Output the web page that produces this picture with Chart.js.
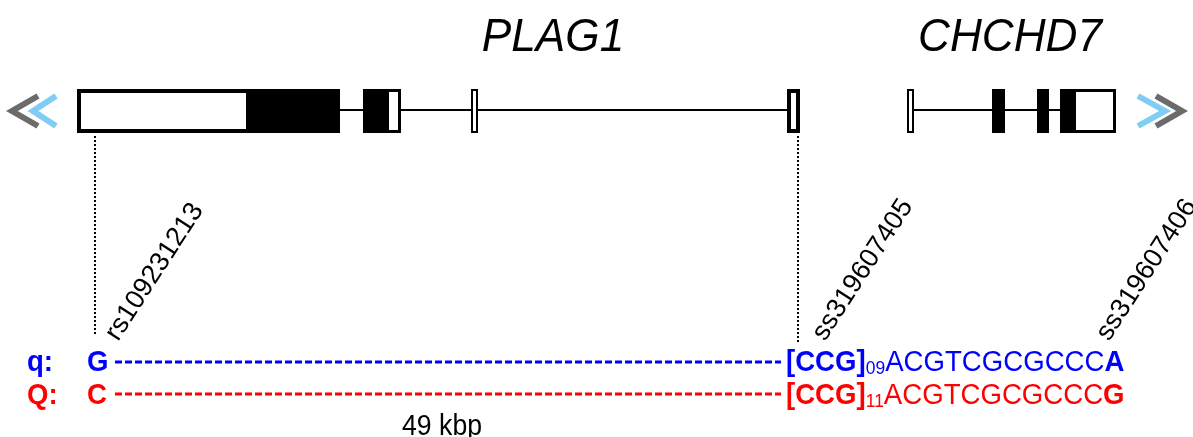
<!DOCTYPE html>
<html>
<head>
<meta charset="utf-8">
<script src="https://cdn.jsdelivr.net/npm/chart.js@4/dist/chart.umd.min.js"></script>
<style>
  html, body { margin: 0; padding: 0; background: #fff; }
  canvas { display: block; }
</style>
</head>
<body>
<canvas id="chart" width="1193" height="437"></canvas>
<script>
// diagram coordinates (x along the locus, y down the figure)
const geneNames = ['PLAG1', 'CHCHD7'];
const geneLabelX = [553, 1010];

const exonStart = [77, 363, 471, 787, 907, 992, 1037, 1060];
const exonEnd = [340, 401, 478, 800, 914, 1005, 1049, 1116];
const codingStart = [246, 363, null, null, null, 992, 1037, 1060];
const codingEnd = [340, 389, null, null, null, 1005, 1049, 1076];

const intronStart = [340, 914];
const intronEnd = [787, 1060];

const markerNames = ['rs109231213', 'ss319607405', 'ss319607406'];
const markerX = [118, 825, 1109];
const markerLineX = [95, 798];
const markerLineEnd = [334, 344];

const haplotypeNames = ['q:', 'Q:'];
const firstAllele = ['G', 'C'];
const repeatUnit = '[CCG]';
const repeatCount = ['09', '11'];
const flankSeq = 'ACGTCGCGCCC';
const lastAllele = ['A', 'G'];
const spanLabel = '49 kbp';

const haploColors = ['#0000ff', '#ff0000'];
const trackY = 110;
const rowY = [362, 394];
const rowBase = [371, 404];
const FONT = '"Liberation Sans", Arial, sans-serif';
const SQUEEZE = 0.92; // the figure's lettering is a little narrow

function seg(x0, x1, y0, y1) {
    return [{x: x0, y: y0}, {x: x1, y: y1 === undefined ? y0 : y1}];
}

function lineSet(data, color, width, dash) {
    return {
        type: 'line', data: data, borderColor: color, borderWidth: width,
        borderDash: dash || [], pointRadius: 0, fill: false, tension: 0,
        borderCapStyle: 'butt', borderJoinStyle: 'miter'
    };
}

const datasets = [];
// introns
for (let i = 0; i < intronStart.length; i++) {
    datasets.push(lineSet(seg(intronStart[i], intronEnd[i], trackY), '#000', 2));
}
// dotted marker lines
for (let i = 0; i < markerLineX.length; i++) {
    datasets.push(lineSet(seg(markerLineX[i], markerLineX[i], 136, markerLineEnd[i]), '#000', 2, [2, 2]));
}
// haplotype dashes
for (let i = 0; i < haplotypeNames.length; i++) {
    datasets.push(lineSet(seg(115, 781, rowY[i]), haploColors[i], 3, [7, 3]));
}
// direction chevrons
const chevron = (tipX, armX) => [{x: armX, y: trackY - 14}, {x: tipX, y: trackY + 1}, {x: armX, y: trackY + 16}];
datasets.push(lineSet(chevron(12, 38), '#6b6b6b', 6));
datasets.push(lineSet(chevron(33, 56), '#7fcdf2', 6));
datasets.push(lineSet(chevron(1165, 1138), '#7fcdf2', 6));
datasets.push(lineSet(chevron(1182, 1156), '#6b6b6b', 6));

const exonBorder = [4, 3, 2, 4, 2, 2, 2, 3];

// draw text narrowed horizontally, returns advance width on screen
function squeezedText(ctx, text, x, y, squeeze) {
    ctx.save();
    ctx.translate(x, y);
    ctx.scale(squeeze, 1);
    ctx.fillText(text, 0, 0);
    ctx.restore();
    return ctx.measureText(text).width * squeeze;
}

const diagramPlugin = {
    id: 'diagram',
    afterDatasetsDraw(chart) {
        const ctx = chart.ctx;
        const sx = chart.scales.x, sy = chart.scales.y;
        const px = v => sx.getPixelForValue(v);
        const py = v => sy.getPixelForValue(v);
        ctx.save();

        // exons
        const top = py(trackY - 21), bottom = py(trackY + 23);
        for (let i = 0; i < exonStart.length; i++) {
            const x0 = px(exonStart[i]), x1 = px(exonEnd[i]);
            ctx.fillStyle = '#fff';
            ctx.fillRect(x0, top, x1 - x0, bottom - top);
            if (codingStart[i] !== null) {
                ctx.fillStyle = '#000';
                ctx.fillRect(px(codingStart[i]), top, px(codingEnd[i]) - px(codingStart[i]), bottom - top);
            }
            const lw = exonBorder[i];
            ctx.lineWidth = lw;
            ctx.strokeStyle = '#000';
            ctx.strokeRect(x0 + lw / 2, top + lw / 2, x1 - x0 - lw, bottom - top - lw);
        }

        // gene names
        ctx.fillStyle = '#000';
        ctx.font = 'italic 46px ' + FONT;
        ctx.textAlign = 'center';
        ctx.textBaseline = 'alphabetic';
        geneNames.forEach((g, i) => squeezedText(ctx, g, px(geneLabelX[i]), py(51), 0.96));

        // marker names
        ctx.font = '27px ' + FONT;
        ctx.textAlign = 'left';
        markerNames.forEach((m, i) => {
            ctx.save();
            ctx.translate(px(markerX[i]), py(342));
            ctx.rotate(-57 * Math.PI / 180);
            ctx.fillText(m, 0, 0);
            ctx.restore();
        });

        // haplotype rows
        for (let i = 0; i < haplotypeNames.length; i++) {
            const base = py(rowBase[i]);
            ctx.fillStyle = haploColors[i];
            ctx.font = 'bold 30px ' + FONT;
            squeezedText(ctx, haplotypeNames[i], px(27), base, SQUEEZE);
            squeezedText(ctx, firstAllele[i], px(87), base, SQUEEZE);
            let x = px(786);
            x += squeezedText(ctx, repeatUnit, x, base, SQUEEZE);
            ctx.font = '19px ' + FONT;
            x += squeezedText(ctx, repeatCount[i], x, base + 3, SQUEEZE);
            ctx.font = '30px ' + FONT;
            x += squeezedText(ctx, flankSeq, x, base, SQUEEZE);
            ctx.font = 'bold 30px ' + FONT;
            squeezedText(ctx, lastAllele[i], x, base, SQUEEZE);
        }

        ctx.fillStyle = '#000';
        ctx.font = '29px ' + FONT;
        squeezedText(ctx, spanLabel, px(402), py(435), SQUEEZE);
        ctx.restore();
    }
};

new Chart(document.getElementById('chart'), {
    type: 'line',
    data: {datasets: datasets},
    options: {
        responsive: false,
        animation: false,
        layout: {padding: 0},
        plugins: {legend: {display: false}, tooltip: {enabled: false}},
        scales: {
            x: {type: 'linear', min: 0, max: 1193, display: false},
            y: {type: 'linear', min: 0, max: 437, reverse: true, display: false}
        }
    },
    plugins: [diagramPlugin]
});
</script>
</body>
</html>
